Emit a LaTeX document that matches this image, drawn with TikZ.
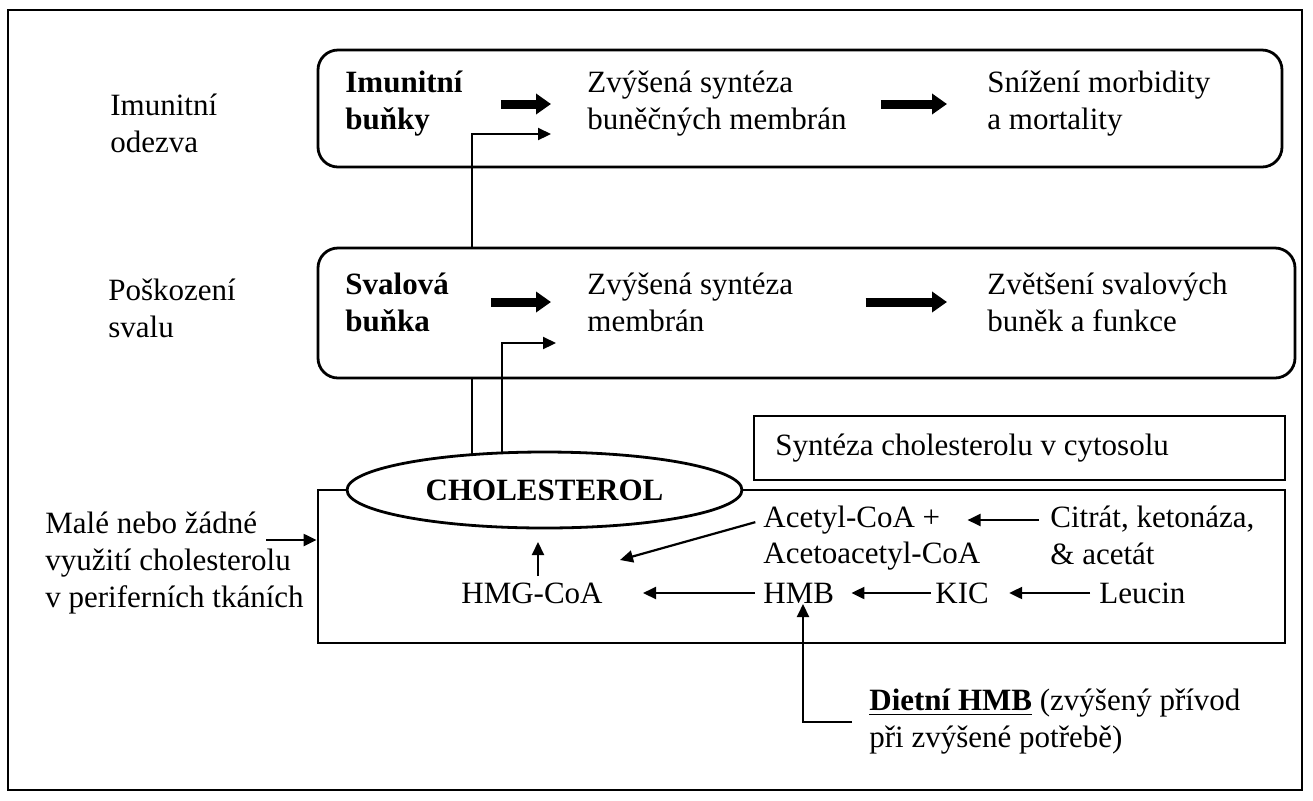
\documentclass[tikz,border=0pt]{standalone}
\usepackage{fontspec}
\setmainfont{Liberation Serif}
\usetikzlibrary{arrows.meta,positioning,calc,shapes.geometric}
\tikzstyle{txt} = [anchor=west, align=left, inner sep=0pt, font=\fontsize{15.5}{18.5}\selectfont]
\tikzset{edge/.style = {
    line width=1.1pt,
    -{Triangle[length=6.5pt, width=6pt]},
  },
  fat/.style = {
    line width=4.5pt,
    -{Triangle[length=7.5pt, width=10pt]},
  }
}

\begin{document}
\begin{tikzpicture}[x=0.5pt, y=-0.5pt]
          \useasboundingbox (0,0) rectangle (1313,800);
          % vertices
          \tikzstyle{panel} = [rectangle, draw, line width=1.4pt, rounded corners=10pt]
          \tikzstyle{plain} = [rectangle, draw, line width=1.4pt]
          \tikzstyle{btxt} = [txt, font=\fontsize{15.5}{18.5}\selectfont\bfseries]

          \node[rectangle, draw, line width=1.1pt, minimum width=647pt, minimum height=390pt] (frame) at (655,400) {};

          \node[panel, minimum width=482pt, minimum height=58.5pt] (imbox) at (800,108.5) {};
          \node[panel, minimum width=488.5pt, minimum height=65pt] (svbox) at (806.5,313) {};
          \node[plain, minimum width=265.5pt, minimum height=32pt] (cytbox) at (1019.5,448) {};
          \node[plain, minimum width=483.5pt, minimum height=76.5pt] (synbox) at (801.5,566.5) {};

          \node[txt] (imlbl) at (110,123) {Imunitní\\odezva};
          \node[txt] (svlbl) at (108,308) {Poškození\\svalu};

          \node[btxt] (imcell)  at (345,104) {Imunitní\\buňky};
          \node[txt]  (imsynt)  at (587,104) {Zvýšená syntéza\\buněčných membrán};
          \node[txt]  (immorb)  at (987,104) {Snížení morbidity\\a mortality};

          \node[btxt] (svcell)  at (345,302) {Svalová\\buňka};
          \node[txt]  (svsynt)  at (587,302) {Zvýšená syntéza\\membrán};
          \node[txt]  (svgrow)  at (987,302) {Zvětšení svalových\\buněk a funkce};

          \node[txt] (cyt) at (775,448) {Syntéza cholesterolu v cytosolu};

          \node[txt] (male) at (45,563) {Malé nebo žádné\\využití cholesterolu\\v periferních tkáních};

          \node[txt] (acetyl)  at (763,520) {Acetyl-CoA +};
          \node[txt] (acetoac) at (763,556) {Acetoacetyl-CoA};
          \node[txt, anchor=north west] (citrat) at (1050,506) {Citrát, ketonáza,\\\& acetát};
          \node[txt] (hmb)    at (763,593) {HMB};
          \node[txt] (kic)    at (935,593) {KIC};
          \node[txt] (leucin) at (1099,593) {Leucin};
          \node[txt, anchor=center] (hmg) at (532,593) {HMG-CoA};

          \node[txt] (dietni) at (869,722) {\underline{\textbf{Dietní HMB}} (zvýšený přívod\\při zvýšené potřebě)};

          % free ends
          \coordinate (stemA) at (472,455);
          \coordinate (stemB) at (502,453);
          \coordinate (imin) at (551,134);
          \coordinate (svin) at (556,343);
          \coordinate (maleout) at (266,540);
          \coordinate (cholfoot) at (538,542);
          \coordinate (diagtip) at (620,560);
          \coordinate (hmbfoot) at (803,604);

          \node[ellipse, draw, fill=white, line width=1.4pt, inner sep=0pt, minimum width=197.5pt, minimum height=38pt, font=\fontsize{15.5}{18.5}\selectfont\bfseries] (chol) at (544.5,490) {CHOLESTEROL};

          % edges
          \draw[line width=1.1pt] (stemA) -- (stemA |- svbox.south);
          \draw[edge] (stemA |- svbox.north) |- (imin);
          \draw[edge] (stemB) |- (svin);

          \draw[fat, shorten <=19pt, shorten >=18pt] (imcell.east) -- (imsynt.west);
          \draw[fat, shorten <=17pt, shorten >=20pt] (imsynt.east) -- (immorb.west);
          \draw[fat, shorten <=21pt, shorten >=18pt] (svcell.east) -- (svsynt.west);
          \draw[fat, shorten <=36pt, shorten >=20pt] (svsynt.east) -- (svgrow.west);

          \draw[edge] (maleout) -- (synbox.west |- maleout);
          \draw[edge, shorten <=3pt] (hmg.north -| cholfoot) -- (cholfoot);
          \draw[edge, shorten <=4pt] (acetyl.west) -- (diagtip);
          \draw[edge, shorten <=5.5pt, shorten >=13.5pt] (citrat.west |- acetyl.east) -- (acetyl.east);
          \draw[edge, shorten <=4.5pt, shorten >=10pt] (leucin.west) -- (kic.east);
          \draw[edge, shorten <=2pt, shorten >=8.5pt] (kic.west) -- (hmb.east);
          \draw[edge, shorten <=4pt, shorten >=20pt] (hmb.west) -- (hmg.east);
          \draw[edge, shorten <=8.5pt] (dietni.west) -| (hmbfoot);
\end{tikzpicture}
\end{document}
